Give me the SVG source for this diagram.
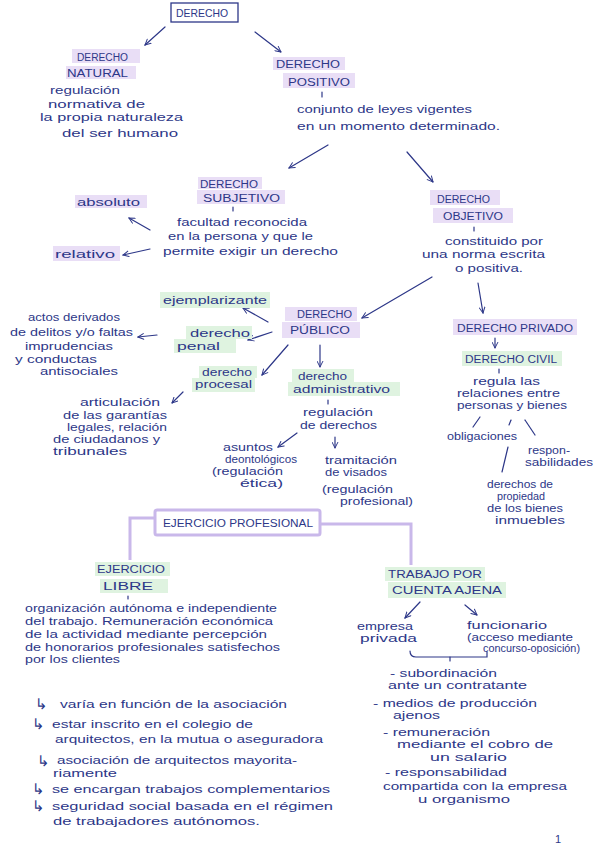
<svg xmlns="http://www.w3.org/2000/svg" width="600" height="848" viewBox="0 0 600 848">
<style>
.t{font-family:"Liberation Sans",Arial,sans-serif;font-size:11px;fill:#2d3788}
.n{font-family:"Liberation Sans",Arial,sans-serif;font-size:10px;fill:#2d3788}
.u{font-family:"Liberation Sans",Arial,sans-serif;font-size:10px;fill:#2d3788}
.s{font-family:"DejaVu Sans",sans-serif;font-size:15px;fill:#2d3788}
.hp{fill:#e9def6}
.hg{fill:#dff3e0}
.ln{stroke:#2d3788;stroke-width:1.2;fill:none;stroke-linecap:round}
.ar{stroke:#2d3788;stroke-width:1.2;fill:none;stroke-linecap:round;marker-end:url(#ah)}
.lv{stroke:#c9b8ea;stroke-width:3;fill:none}
</style>
<defs>
<marker id="ah" viewBox="0 0 10 10" refX="9" refY="5" markerWidth="7" markerHeight="7" orient="auto" markerUnits="userSpaceOnUse">
<path d="M1,1 L9,5 L1,9" fill="none" stroke="#2d3788" stroke-width="1.4" stroke-linecap="round"/>
</marker>
</defs>
<rect width="600" height="848" fill="#ffffff"/>

<g id="connectors">
<line class="ar" x1="165" y1="27" x2="145" y2="45"/>
<line class="ar" x1="255" y1="32" x2="281" y2="52"/>
<line class="ar" x1="328" y1="145" x2="289" y2="168"/>
<line class="ar" x1="407" y1="152" x2="433" y2="182"/>
<line class="ar" x1="150" y1="230" x2="129" y2="218"/>
<line class="ar" x1="150" y1="249" x2="123" y2="255"/>
<line class="ar" x1="432" y1="277" x2="362" y2="318"/>
<line class="ar" x1="478" y1="283" x2="483" y2="313"/>
<line class="ar" x1="268" y1="322" x2="243" y2="308"/>
<line class="ar" x1="272" y1="332" x2="248" y2="340"/>
<line class="ar" x1="157" y1="335" x2="138" y2="337"/>
<line class="ar" x1="288" y1="345" x2="262" y2="375"/>
<line class="ar" x1="183" y1="392" x2="172" y2="403"/>
<line class="ar" x1="320" y1="345" x2="320" y2="367"/>
<line class="ar" x1="297" y1="433" x2="278" y2="447"/>
<line class="ar" x1="335" y1="437" x2="335" y2="448"/>
<line class="ar" x1="495" y1="338" x2="495" y2="348"/>
<line class="ln" x1="480" y1="417" x2="473" y2="427"/>
<line class="ln" x1="511" y1="420" x2="509" y2="425"/>
<line class="ln" x1="525" y1="420" x2="535" y2="435"/>
<line class="ln" x1="508" y1="447" x2="502" y2="472"/>
<line class="ln" x1="322" y1="92" x2="322" y2="97"/>
<line class="ln" x1="233" y1="207" x2="233" y2="211"/>
<line class="ln" x1="474" y1="227" x2="474" y2="231"/>
<line class="ln" x1="499" y1="369" x2="499" y2="373"/>
<line class="ln" x1="328" y1="400" x2="328" y2="404"/>
<line class="ln" x1="128" y1="596" x2="128" y2="599"/>
<path class="lv" d="M155,518 H130 V560"/>
<path class="lv" d="M320,524 H411 V565"/>
<line class="ar" x1="420" y1="602" x2="405" y2="618"/>
<line class="ar" x1="465" y1="605" x2="477" y2="615"/>
<path class="ln" d="M410,651 Q410,657 416,657 H487 V652"/>
<line class="ln" x1="450" y1="657" x2="450" y2="661"/>
</g>

<g id="derecho">
<rect x="171" y="3" width="67" height="19" fill="none" stroke="#2d3788" stroke-width="1.3"/>
<text class="t" x="176" y="17" textLength="52" lengthAdjust="spacingAndGlyphs">DERECHO</text>
</g>

<g id="derecho-natural">
<rect class="hp" x="72" y="49" width="68" height="14"/>
<rect class="hp" x="66" y="66" width="70" height="13"/>
<text class="u" x="77" y="61" textLength="51" lengthAdjust="spacingAndGlyphs">DERECHO</text>
<text class="u" x="67" y="77" textLength="61" lengthAdjust="spacingAndGlyphs">NATURAL</text>
<text class="t" x="50" y="94" textLength="70" lengthAdjust="spacingAndGlyphs">regulación</text>
<text class="t" x="48" y="108" textLength="97" lengthAdjust="spacingAndGlyphs">normativa de</text>
<text class="t" x="40" y="121" textLength="143" lengthAdjust="spacingAndGlyphs">la propia naturaleza</text>
<text class="t" x="62" y="137" textLength="116" lengthAdjust="spacingAndGlyphs">del ser humano</text>
</g>

<g id="derecho-positivo">
<rect class="hp" x="273" y="57" width="72" height="13"/>
<rect class="hp" x="283" y="73" width="72" height="15"/>
<text class="u" x="276" y="68" textLength="64" lengthAdjust="spacingAndGlyphs">DERECHO</text>
<text class="u" x="288" y="86" textLength="62" lengthAdjust="spacingAndGlyphs">POSITIVO</text>
<text class="t" x="297" y="113" textLength="175" lengthAdjust="spacingAndGlyphs">conjunto de leyes vigentes</text>
<text class="t" x="297" y="130" textLength="203" lengthAdjust="spacingAndGlyphs">en un momento determinado.</text>
</g>

<g id="derecho-subjetivo">
<rect class="hp" x="198" y="177" width="64" height="12"/>
<rect class="hp" x="197" y="190" width="88" height="14"/>
<text class="u" x="200" y="188" textLength="58" lengthAdjust="spacingAndGlyphs">DERECHO</text>
<text class="u" x="203" y="202" textLength="77" lengthAdjust="spacingAndGlyphs">SUBJETIVO</text>
<text class="t" x="177" y="226" textLength="130" lengthAdjust="spacingAndGlyphs">facultad reconocida</text>
<text class="t" x="168" y="240" textLength="145" lengthAdjust="spacingAndGlyphs">en la persona y que le</text>
<text class="t" x="163" y="255" textLength="175" lengthAdjust="spacingAndGlyphs">permite exigir un derecho</text>
</g>

<g id="absoluto">
<rect class="hp" x="75" y="195" width="72" height="13"/>
<text class="t" x="77" y="206" textLength="63" lengthAdjust="spacingAndGlyphs">absoluto</text>
</g>

<g id="relativo">
<rect class="hp" x="53" y="246" width="67" height="15"/>
<text class="t" x="55" y="258" textLength="60" lengthAdjust="spacingAndGlyphs">relativo</text>
</g>

<g id="derecho-objetivo">
<rect class="hp" x="430" y="190" width="70" height="15"/>
<rect class="hp" x="433" y="208" width="80" height="15"/>
<text class="u" x="437" y="203" textLength="53" lengthAdjust="spacingAndGlyphs">DERECHO</text>
<text class="u" x="443" y="220" textLength="60" lengthAdjust="spacingAndGlyphs">OBJETIVO</text>
<text class="t" x="445" y="245" textLength="98" lengthAdjust="spacingAndGlyphs">constituido por</text>
<text class="t" x="422" y="258" textLength="123" lengthAdjust="spacingAndGlyphs">una norma escrita</text>
<text class="t" x="455" y="272" textLength="68" lengthAdjust="spacingAndGlyphs">o positiva.</text>
</g>

<g id="derecho-publico">
<rect class="hp" x="285" y="307" width="72" height="14"/>
<rect class="hp" x="282" y="322" width="78" height="16"/>
<text class="u" x="297" y="318" textLength="55" lengthAdjust="spacingAndGlyphs">DERECHO</text>
<text class="u" x="290" y="334" textLength="60" lengthAdjust="spacingAndGlyphs">PÚBLICO</text>
</g>

<g id="ejemplarizante">
<rect class="hg" x="160" y="292" width="110" height="16"/>
<text class="t" x="163" y="304" textLength="104" lengthAdjust="spacingAndGlyphs">ejemplarizante</text>
</g>

<g id="derecho-penal">
<rect class="hg" x="186" y="326" width="66" height="13"/>
<rect class="hg" x="174" y="339" width="62" height="14"/>
<text class="t" x="190" y="337" textLength="60" lengthAdjust="spacingAndGlyphs">derecho</text>
<text class="t" x="177" y="350" textLength="43" lengthAdjust="spacingAndGlyphs">penal</text>
</g>

<g id="actos-derivados">
<text class="n" x="28" y="321" textLength="92" lengthAdjust="spacingAndGlyphs">actos derivados</text>
<text class="n" x="10" y="336" textLength="123" lengthAdjust="spacingAndGlyphs">de delitos y/o faltas</text>
<text class="n" x="25" y="350" textLength="88" lengthAdjust="spacingAndGlyphs">imprudencias</text>
<text class="n" x="15" y="363" textLength="82" lengthAdjust="spacingAndGlyphs">y conductas</text>
<text class="n" x="40" y="375" textLength="78" lengthAdjust="spacingAndGlyphs">antisociales</text>
</g>

<g id="derecho-procesal">
<rect class="hg" x="199" y="366" width="58" height="12"/>
<rect class="hg" x="192" y="378" width="63" height="14"/>
<text class="n" x="202" y="376" textLength="50" lengthAdjust="spacingAndGlyphs">derecho</text>
<text class="n" x="195" y="388" textLength="57" lengthAdjust="spacingAndGlyphs">procesal</text>
</g>

<g id="articulacion">
<text class="n" x="80" y="406" textLength="80" lengthAdjust="spacingAndGlyphs">articulación</text>
<text class="n" x="63" y="419" textLength="104" lengthAdjust="spacingAndGlyphs">de las garantías</text>
<text class="n" x="67" y="431" textLength="100" lengthAdjust="spacingAndGlyphs">legales, relación</text>
<text class="n" x="53" y="443" textLength="107" lengthAdjust="spacingAndGlyphs">de ciudadanos y</text>
<text class="n" x="53" y="455" textLength="74" lengthAdjust="spacingAndGlyphs">tribunales</text>
</g>

<g id="derecho-administrativo">
<rect class="hg" x="292" y="369" width="62" height="13"/>
<rect class="hg" x="288" y="382" width="112" height="14"/>
<text class="n" x="298" y="380" textLength="49" lengthAdjust="spacingAndGlyphs">derecho</text>
<text class="n" x="293" y="393" textLength="97" lengthAdjust="spacingAndGlyphs">administrativo</text>
<text class="n" x="303" y="416" textLength="70" lengthAdjust="spacingAndGlyphs">regulación</text>
<text class="n" x="300" y="429" textLength="77" lengthAdjust="spacingAndGlyphs">de derechos</text>
</g>

<g id="asuntos-deontologicos">
<text class="n" x="223" y="451" textLength="50" lengthAdjust="spacingAndGlyphs">asuntos</text>
<text class="n" x="225" y="463" textLength="72" lengthAdjust="spacingAndGlyphs">deontológicos</text>
<text class="n" x="212" y="475" textLength="71" lengthAdjust="spacingAndGlyphs">(regulación</text>
<text class="n" x="240" y="487" textLength="43" lengthAdjust="spacingAndGlyphs">ética)</text>
</g>

<g id="tramitacion-visados">
<text class="n" x="325" y="464" textLength="72" lengthAdjust="spacingAndGlyphs">tramitación</text>
<text class="n" x="325" y="476" textLength="62" lengthAdjust="spacingAndGlyphs">de visados</text>
<text class="n" x="322" y="493" textLength="71" lengthAdjust="spacingAndGlyphs">(regulación</text>
<text class="n" x="340" y="505" textLength="73" lengthAdjust="spacingAndGlyphs">profesional)</text>
</g>

<g id="derecho-privado">
<rect class="hp" x="453" y="319" width="124" height="16"/>
<text class="u" x="457" y="332" textLength="116" lengthAdjust="spacingAndGlyphs">DERECHO PRIVADO</text>
</g>

<g id="derecho-civil">
<rect class="hg" x="462" y="351" width="100" height="15"/>
<text class="u" x="465" y="363" textLength="92" lengthAdjust="spacingAndGlyphs">DERECHO CIVIL</text>
<text class="n" x="473" y="385" textLength="67" lengthAdjust="spacingAndGlyphs">regula las</text>
<text class="n" x="457" y="397" textLength="103" lengthAdjust="spacingAndGlyphs">relaciones entre</text>
<text class="n" x="457" y="409" textLength="110" lengthAdjust="spacingAndGlyphs">personas y bienes</text>
</g>

<g id="obligaciones">
<text class="n" x="447" y="440" textLength="70" lengthAdjust="spacingAndGlyphs">obligaciones</text>
</g>

<g id="responsabilidades">
<text class="n" x="528" y="454" textLength="42" lengthAdjust="spacingAndGlyphs">respon-</text>
<text class="n" x="525" y="466" textLength="68" lengthAdjust="spacingAndGlyphs">sabilidades</text>
</g>

<g id="derechos-propiedad">
<text class="n" x="487" y="488" textLength="66" lengthAdjust="spacingAndGlyphs">derechos de</text>
<text class="n" x="497" y="500" textLength="48" lengthAdjust="spacingAndGlyphs">propiedad</text>
<text class="n" x="487" y="512" textLength="76" lengthAdjust="spacingAndGlyphs">de los bienes</text>
<text class="n" x="495" y="524" textLength="70" lengthAdjust="spacingAndGlyphs">inmuebles</text>
</g>

<g id="ejercicio-profesional">
<rect class="lv" x="155" y="510" width="165" height="25" rx="2"/>
<text class="u" x="163" y="527" textLength="150" lengthAdjust="spacingAndGlyphs">EJERCICIO PROFESIONAL</text>
</g>

<g id="ejercicio-libre">
<rect class="hg" x="95" y="562" width="75" height="14"/>
<rect class="hg" x="100" y="579" width="68" height="14"/>
<text class="u" x="97" y="573" textLength="68" lengthAdjust="spacingAndGlyphs">EJERCICIO</text>
<text class="u" x="103" y="590" textLength="50" lengthAdjust="spacingAndGlyphs">LIBRE</text>
<text class="n" x="25" y="612" textLength="252" lengthAdjust="spacingAndGlyphs">organización autónoma e independiente</text>
<text class="n" x="25" y="625" textLength="248" lengthAdjust="spacingAndGlyphs">del trabajo. Remuneración económica</text>
<text class="n" x="25" y="638" textLength="242" lengthAdjust="spacingAndGlyphs">de la actividad mediante percepción</text>
<text class="n" x="25" y="651" textLength="255" lengthAdjust="spacingAndGlyphs">de honorarios profesionales satisfechos</text>
<text class="n" x="25" y="663" textLength="95" lengthAdjust="spacingAndGlyphs">por los clientes</text>
</g>

<g id="ejercicio-libre-notas">
<text class="s" x="35" y="709">↳</text>
<text class="t" x="60" y="708" textLength="227" lengthAdjust="spacingAndGlyphs">varía en función de la asociación</text>
<text class="s" x="32" y="729">↳</text>
<text class="t" x="52" y="728" textLength="201" lengthAdjust="spacingAndGlyphs">estar inscrito en el colegio de</text>
<text class="t" x="55" y="743" textLength="268" lengthAdjust="spacingAndGlyphs">arquitectos, en la mutua o aseguradora</text>
<text class="s" x="37" y="766">↳</text>
<text class="t" x="57" y="764" textLength="240" lengthAdjust="spacingAndGlyphs">asociación de arquitectos mayorita-</text>
<text class="t" x="53" y="777" textLength="64" lengthAdjust="spacingAndGlyphs">riamente</text>
<text class="s" x="32" y="794">↳</text>
<text class="t" x="52" y="793" textLength="278" lengthAdjust="spacingAndGlyphs">se encargan trabajos complementarios</text>
<text class="s" x="32" y="811">↳</text>
<text class="t" x="52" y="810" textLength="281" lengthAdjust="spacingAndGlyphs">seguridad social basada en el régimen</text>
<text class="t" x="53" y="825" textLength="207" lengthAdjust="spacingAndGlyphs">de trabajadores autónomos.</text>
</g>

<g id="trabajo-cuenta-ajena">
<rect class="hg" x="385" y="567" width="100" height="14"/>
<rect class="hg" x="388" y="582" width="118" height="16"/>
<text class="u" x="388" y="578" textLength="94" lengthAdjust="spacingAndGlyphs">TRABAJO POR</text>
<text class="u" x="392" y="594" textLength="110" lengthAdjust="spacingAndGlyphs">CUENTA AJENA</text>
</g>

<g id="empresa-privada">
<text class="n" x="357" y="630" textLength="56" lengthAdjust="spacingAndGlyphs">empresa</text>
<text class="n" x="360" y="642" textLength="57" lengthAdjust="spacingAndGlyphs">privada</text>
</g>

<g id="funcionario">
<text class="n" x="467" y="629" textLength="80" lengthAdjust="spacingAndGlyphs">funcionario</text>
<text class="n" x="467" y="641" textLength="106" lengthAdjust="spacingAndGlyphs">(acceso mediante</text>
<text class="n" x="483" y="652" font-size="9" textLength="97" lengthAdjust="spacingAndGlyphs">concurso-oposición)</text>
</g>

<g id="cuenta-ajena-notas">
<text class="n" x="390" y="677" textLength="107" lengthAdjust="spacingAndGlyphs">- subordinación</text>
<text class="n" x="388" y="689" textLength="139" lengthAdjust="spacingAndGlyphs">ante un contratante</text>
<text class="n" x="373" y="707" textLength="164" lengthAdjust="spacingAndGlyphs">- medios de producción</text>
<text class="n" x="393" y="719" textLength="47" lengthAdjust="spacingAndGlyphs">ajenos</text>
<text class="n" x="383" y="736" textLength="107" lengthAdjust="spacingAndGlyphs">- remuneración</text>
<text class="n" x="397" y="748" textLength="156" lengthAdjust="spacingAndGlyphs">mediante el cobro de</text>
<text class="n" x="430" y="761" textLength="77" lengthAdjust="spacingAndGlyphs">un salario</text>
<text class="n" x="385" y="776" textLength="122" lengthAdjust="spacingAndGlyphs">- responsabilidad</text>
<text class="n" x="383" y="790" textLength="184" lengthAdjust="spacingAndGlyphs">compartida con la empresa</text>
<text class="n" x="418" y="803" textLength="92" lengthAdjust="spacingAndGlyphs">u organismo</text>
</g>

<g id="pagina">
<text class="t" x="555" y="843" font-size="13">1</text>
</g>
</svg>
